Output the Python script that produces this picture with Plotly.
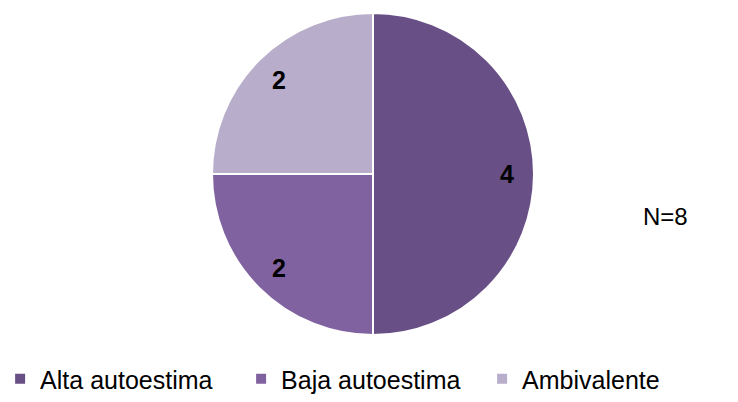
import math
import plotly.graph_objects as go

W, H = 738, 402

labels = ["Alta autoestima", "Baja autoestima", "Ambivalente"]
values = [4, 2, 2]
colors = ["#685087", "#8062a0", "#b8adca"]

FONT = "Liberation Sans, Arial, sans-serif"

# pie placement (pixels), converted to paper domain
CX, CY, R = 373, 174, 161
dom_x = [(CX - R) / W, (CX + R) / W]
dom_y = [(H - CY - R) / H, (H - CY + R) / H]

fig = go.Figure(go.Pie(
    labels=labels,
    values=values,
    sort=False,
    direction="clockwise",
    rotation=0,
    marker=dict(colors=colors, line=dict(color="white", width=2)),
    textinfo="none",
    domain=dict(x=dom_x, y=dom_y),
    hovertemplate="<b>%{label}</b><br>%{value}<extra></extra>",
))

# value labels near the rim, like the original (Excel-style)
total = sum(values)
start = 0.0
for v in values:
    mid = (start + v / 2) / total * 2 * math.pi  # clockwise from 12 o'clock
    start += v
    px = CX + 0.83 * R * math.sin(mid)
    py = CY - 0.83 * R * math.cos(mid)
    fig.add_annotation(
        x=px / W, y=(H - py) / H, xref="paper", yref="paper",
        xanchor="center", yanchor="middle",
        text=f"<b>{v}</b>", showarrow=False,
        font=dict(size=25, color="black", family=FONT),
    )

fig.add_annotation(
    x=665 / W, y=(H - 216) / H, xref="paper", yref="paper",
    xanchor="center", yanchor="middle",
    text=f"N={total}", showarrow=False,
    font=dict(size=24, color="black", family=FONT),
)

fig.update_layout(
    width=W,
    height=H,
    paper_bgcolor="white",
    plot_bgcolor="white",
    font=dict(family=FONT, color="black"),
    margin=dict(t=0, b=0, l=0, r=0),
    showlegend=True,
    legend=dict(
        orientation="h",
        x=0.49, xanchor="center",
        y=0.0, yanchor="bottom",
        font=dict(size=25),
        entrywidth=196,
        entrywidthmode="pixels",
        itemclick=False,
        tracegroupgap=0,
    ),
)

# drop the default 8px page margin so the figure fills the window
fig.write_html(
    "out.html",
    config={"displayModeBar": False},
    post_script="document.body.style.margin='0';",
)
